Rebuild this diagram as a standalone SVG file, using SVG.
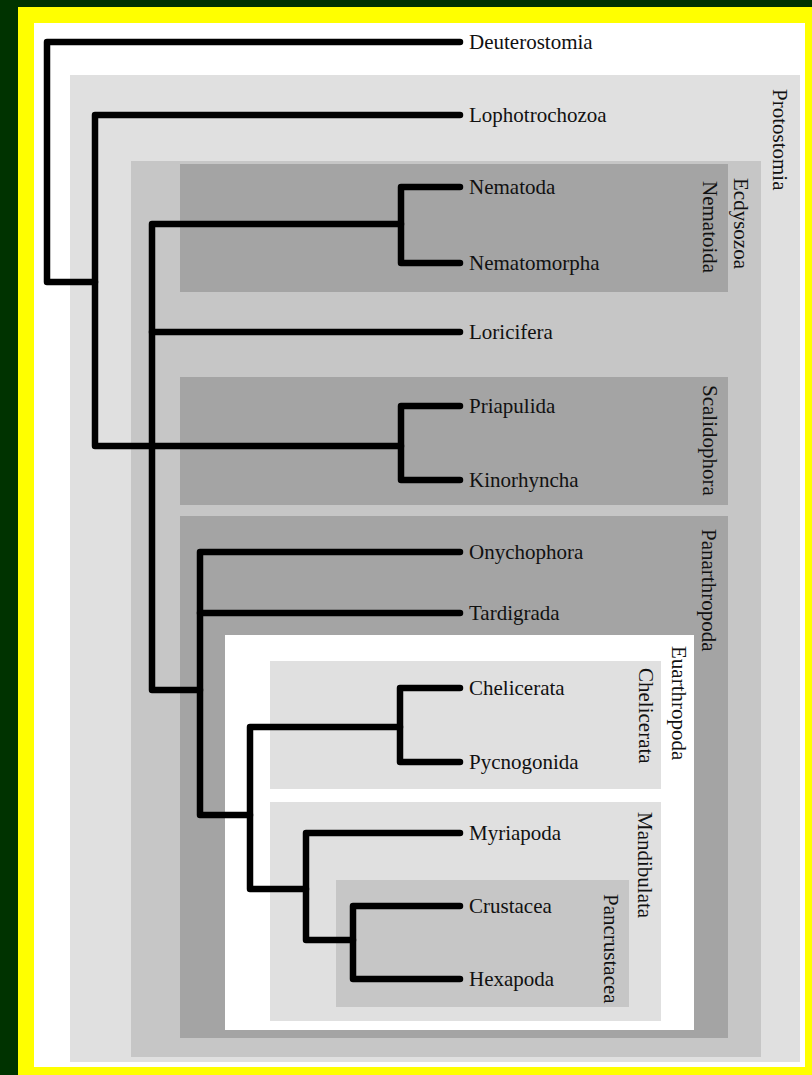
<svg xmlns="http://www.w3.org/2000/svg" width="812" height="1075" viewBox="0 0 812 1075">
<style>
.t{font-family:"Liberation Serif","Times New Roman",serif;font-size:21px;fill:#111}
.e{fill:none;stroke:#000;stroke-width:6.5;stroke-linecap:round;stroke-linejoin:round}
</style>
<rect x="0" y="0" width="812" height="1075" fill="#003300"/>
<rect x="18" y="7" width="794" height="1068" fill="#ffff00"/>
<rect x="34" y="23" width="771" height="1044" fill="#ffffff"/>
<g id="protostomia"><rect x="70" y="75" width="730" height="987" fill="#e0e0e0"/><text class="t" transform="translate(773,89) rotate(90)">Protostomia</text></g>
<g id="ecdysozoa"><rect x="131" y="161" width="630" height="896" fill="#c6c6c6"/><text class="t" transform="translate(734,178) rotate(90)">Ecdysozoa</text></g>
<g id="nematoida"><rect x="180" y="164" width="548" height="128" fill="#a4a4a4"/><text class="t" transform="translate(703,181) rotate(90)">Nematoida</text></g>
<g id="scalidophora"><rect x="180" y="377" width="548" height="128" fill="#a4a4a4"/><text class="t" transform="translate(703,385) rotate(90)">Scalidophora</text></g>
<g id="panarthropoda"><rect x="180" y="516" width="548" height="522" fill="#a4a4a4"/><text class="t" transform="translate(702,529) rotate(90)">Panarthropoda</text></g>
<g id="euarthropoda"><rect x="225" y="635" width="469" height="395" fill="#ffffff"/><text class="t" transform="translate(672,646) rotate(90)">Euarthropoda</text></g>
<g id="chelicerata-clade"><rect x="270" y="661" width="391" height="128" fill="#e0e0e0"/><text class="t" transform="translate(639,668) rotate(90)">Chelicerata</text></g>
<g id="mandibulata"><rect x="270" y="802" width="391" height="219" fill="#e0e0e0"/><text class="t" transform="translate(638,812) rotate(90)">Mandibulata</text></g>
<g id="pancrustacea"><rect x="336" y="880" width="293" height="127" fill="#c6c6c6"/><text class="t" transform="translate(604,894) rotate(90)">Pancrustacea</text></g>
<g id="connectors">
<path class="e" d="M460,42 H47 V282 H95"/>
<path class="e" d="M460,115 H95 V446 H401"/>
<path class="e" d="M401,224 H152 V690 H200"/>
<path class="e" d="M460,187 H401 V263 H460"/>
<path class="e" d="M152,332 H460"/>
<path class="e" d="M460,406 H401 V480 H460"/>
<path class="e" d="M460,552 H200 V815 H250"/>
<path class="e" d="M200,613 H460"/>
<path class="e" d="M400,727 H250 V889 H306"/>
<path class="e" d="M460,688 H400 V762 H460"/>
<path class="e" d="M460,833 H306 V940 H353"/>
<path class="e" d="M460,906 H353 V979 H460"/>
</g>
<g id="leaves">
<text class="t" x="469" y="49">Deuterostomia</text>
<text class="t" x="469" y="122">Lophotrochozoa</text>
<text class="t" x="469" y="194">Nematoda</text>
<text class="t" x="469" y="270">Nematomorpha</text>
<text class="t" x="469" y="339">Loricifera</text>
<text class="t" x="469" y="413">Priapulida</text>
<text class="t" x="469" y="487">Kinorhyncha</text>
<text class="t" x="469" y="559">Onychophora</text>
<text class="t" x="469" y="620">Tardigrada</text>
<text class="t" x="469" y="695">Chelicerata</text>
<text class="t" x="469" y="769">Pycnogonida</text>
<text class="t" x="469" y="840">Myriapoda</text>
<text class="t" x="469" y="913">Crustacea</text>
<text class="t" x="469" y="986">Hexapoda</text>
</g>
</svg>
